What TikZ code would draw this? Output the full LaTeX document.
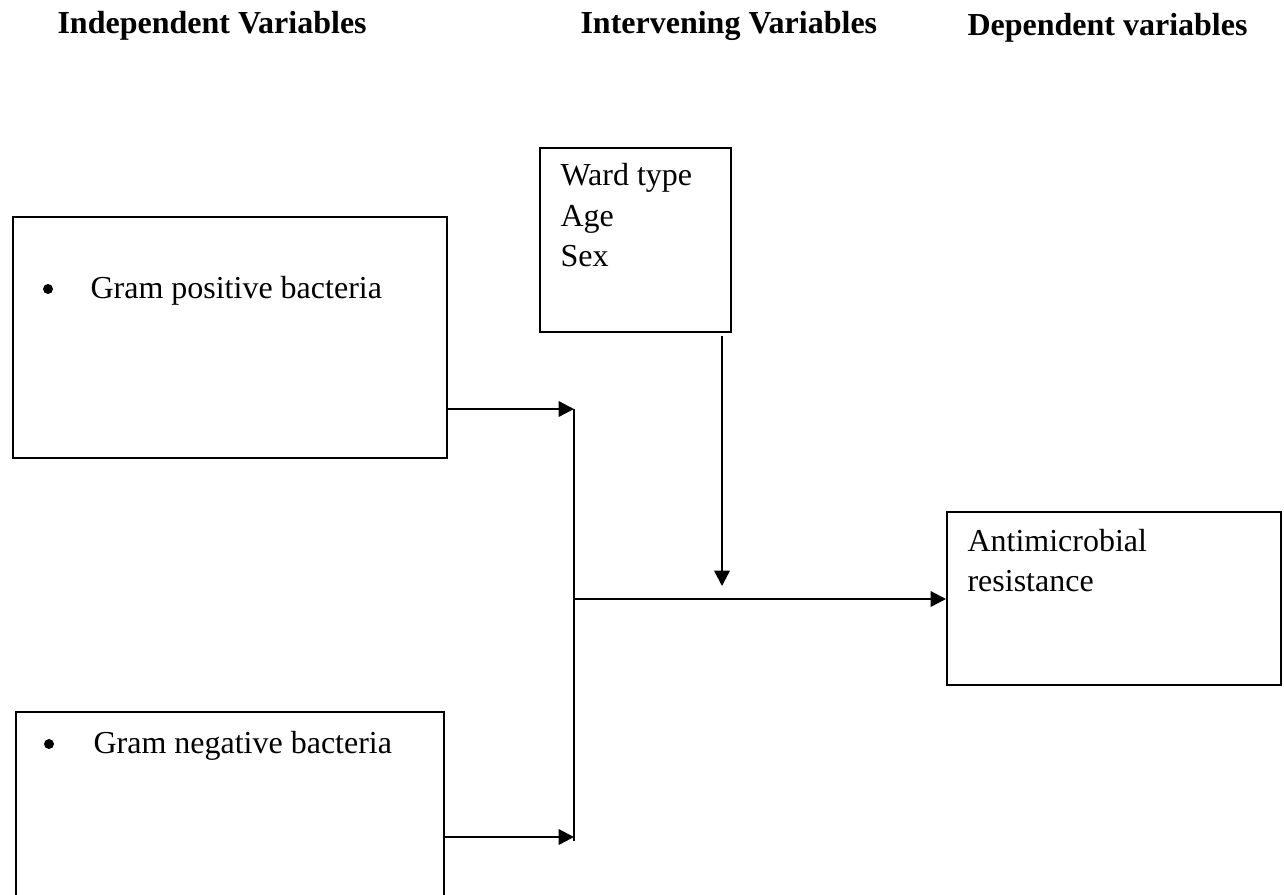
\documentclass[tikz,border=0pt]{standalone}
\usepackage{fontspec}
\setmainfont{Liberation Serif}
\usepackage{tikz}
\usetikzlibrary{arrows.meta}

\tikzset{
  box/.style={draw, line width=0.85pt, anchor=north west, inner sep=0pt},
  txt/.style={anchor=base west, inner sep=0pt, font=\fontsize{12}{15}\selectfont},
  head/.style={txt, font=\fontsize{12}{15}\selectfont\bfseries},
  arr/.style={line width=0.9pt, -{Triangle[length=5.8pt,width=5.8pt]}},
  joinline/.style={line width=0.45pt},
}

\begin{document}
\begin{tikzpicture}[x=0.375pt,y=0.375pt,yscale=-1,xscale=1]
\useasboundingbox (0,0) rectangle (1284,894);
\clip (0,0) rectangle (1284,894);

% Text Node
\node[head] (hind) at (57,33) {Independent Variables};
% Text Node
\node[head] (hint) at (580,33) {Intervening Variables};
% Text Node
\node[head] (hdep) at (967,35) {Dependent variables};

%Shape: Rectangle [gram positive]
\node[box, minimum width=162.75pt, minimum height=90.4pt] (gpos) at (12,216) {};
%Shape: Rectangle [gram negative]
\node[box, minimum width=160.5pt, minimum height=71pt] (gneg) at (15,711) {};
%Shape: Rectangle [intervening]
\node[box, minimum width=71.6pt, minimum height=69pt] (inter) at (539,147) {};
%Shape: Rectangle [outcome]
\node[box, minimum width=125.2pt, minimum height=64.9pt] (amr) at (946,511) {};

% Text Node
\node[txt] (tpos) at (90,298) {Gram positive bacteria};
\fill (48,289) circle (5);
% Text Node
\node[txt] (tneg) at (93,753) {Gram negative bacteria};
\fill (49,744) circle (5);
% Text Node
\node[txt] (tward) at (560,185) {Ward type};
\node[txt] (tage) at (560,226) {Age};
\node[txt] (tsex) at (560,266) {Sex};
% Text Node
\node[txt] (tamr) at (967,551) {Antimicrobial};
\node[txt] (tres) at (967,591) {resistance};

% junction points
\coordinate (jtop) at (574,409);
\coordinate (jbot) at (574,837);
\coordinate (jend) at (574,841);
\coordinate (jmid) at (574,599);
\coordinate (vtip) at (722,586);

%Straight Lines
\draw[arr] (gpos.east |- jtop) -- (jtop);
\draw[arr] (gneg.east |- jbot) -- (jbot);
\draw[joinline] (jtop) -- (jend);
\draw[arr] (jmid) -- (amr.west |- jmid);
\draw[arr, shorten <=1.2pt] (inter.south -| vtip) -- (vtip);

\end{tikzpicture}
\end{document}
